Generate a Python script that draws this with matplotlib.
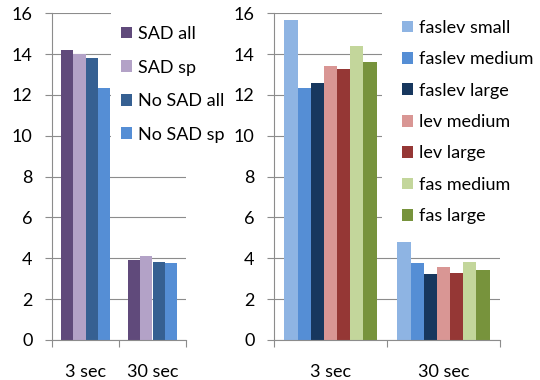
import numpy as np
import matplotlib.pyplot as plt
from matplotlib.patches import Patch, Rectangle

plt.rcParams['font.family'] = ['Lato', 'DejaVu Sans']
plt.rcParams['font.size'] = 13

categories = ['3 sec', '30 sec']

# left panel: SAD comparison
sad_labels = ['SAD all', 'SAD sp', 'No SAD all', 'No SAD sp']
sad_values = [
    [14.21, 3.92],
    [14.02, 4.13],
    [13.82, 3.84],
    [12.35, 3.76],
]
sad_colors = ['#604A7B', '#B3A2C7', '#366092', '#558ED5']

# right panel: matcher variants
var_labels = ['faslev small', 'faslev medium', 'faslev large', 'lev medium',
              'lev large', 'fas medium', 'fas large']
var_values = [
    [15.67, 4.79],
    [12.33, 3.75],
    [12.59, 3.21],
    [13.41, 3.57],
    [13.25, 3.29],
    [14.38, 3.83],
    [13.60, 3.42],
]
var_colors = ['#8EB4E3', '#558ED5', '#17375E', '#D99694',
              '#953735', '#C3D69B', '#77933C']

yticks = [0, 2, 4, 6, 8, 10, 12, 14, 16]

fig = plt.figure(figsize=(5.4, 3.8), dpi=100)
ax1 = fig.add_axes([52 / 540, 40 / 380, 134 / 540, 326.7 / 380])
ax2 = fig.add_axes([274 / 540, 40 / 380, 226 / 540, 326.7 / 380])


def draw_bars(ax, values, colors, group_frac):
    n = len(values)
    w = group_frac / n
    x = np.arange(len(categories))
    for i, (vals, c) in enumerate(zip(values, colors)):
        ax.bar(x + (i - (n - 1) / 2) * w, vals, width=w, color=c,
               edgecolor='none', zorder=2)
    ax.set_xlim(-0.5, len(categories) - 0.5)
    ax.set_ylim(0, 16)
    ax.set_yticks(yticks)
    ax.set_xticks(x)
    ax.set_xticklabels(categories)
    ax.set_xticks([-0.5, 0.5, 1.5], minor=True)
    ax.tick_params(axis='x', which='major', length=0, pad=17)
    ax.tick_params(axis='x', which='minor', length=5, width=0.8,
                   color='#8C8C8C', direction='out')
    ax.tick_params(axis='y', length=5, width=0.8, color='#8C8C8C',
                   direction='out', pad=9)
    ax.grid(axis='y', color='#8C8C8C', linewidth=0.8, zorder=0)
    ax.set_axisbelow(True)
    for s in ['top', 'right']:
        ax.spines[s].set_visible(False)
    for s in ['left', 'bottom']:
        ax.spines[s].set_color('#8C8C8C')
        ax.spines[s].set_linewidth(0.8)


draw_bars(ax1, sad_values, sad_colors, 0.73)
draw_bars(ax2, var_values, var_colors, 0.816)

# white area behind each legend hides the gridlines there
ax1.add_patch(Rectangle((0.44, 0.575), 0.62, 0.45, transform=ax1.transAxes,
                        facecolor='white', edgecolor='none', zorder=1,
                        clip_on=False))
ax2.add_patch(Rectangle((0.478, 0.312), 0.55, 0.72, transform=ax2.transAxes,
                        facecolor='white', edgecolor='none', zorder=1,
                        clip_on=False))


def add_legend(labels, colors, anchor, spacing):
    handles = [Patch(facecolor=c, edgecolor='none') for c in colors]
    return fig.legend(handles, labels, loc='upper left',
                      bbox_to_anchor=anchor, frameon=False, borderaxespad=0,
                      borderpad=0, handlelength=0.62, handleheight=0.62,
                      handletextpad=0.3, labelspacing=spacing)


add_legend(sad_labels, sad_colors, (121 / 540, 1 - 26 / 380), 0.97)
add_legend(var_labels, var_colors, (402 / 540, 1 - 20 / 380), 0.85)

fig.savefig('out.png', dpi=100)
